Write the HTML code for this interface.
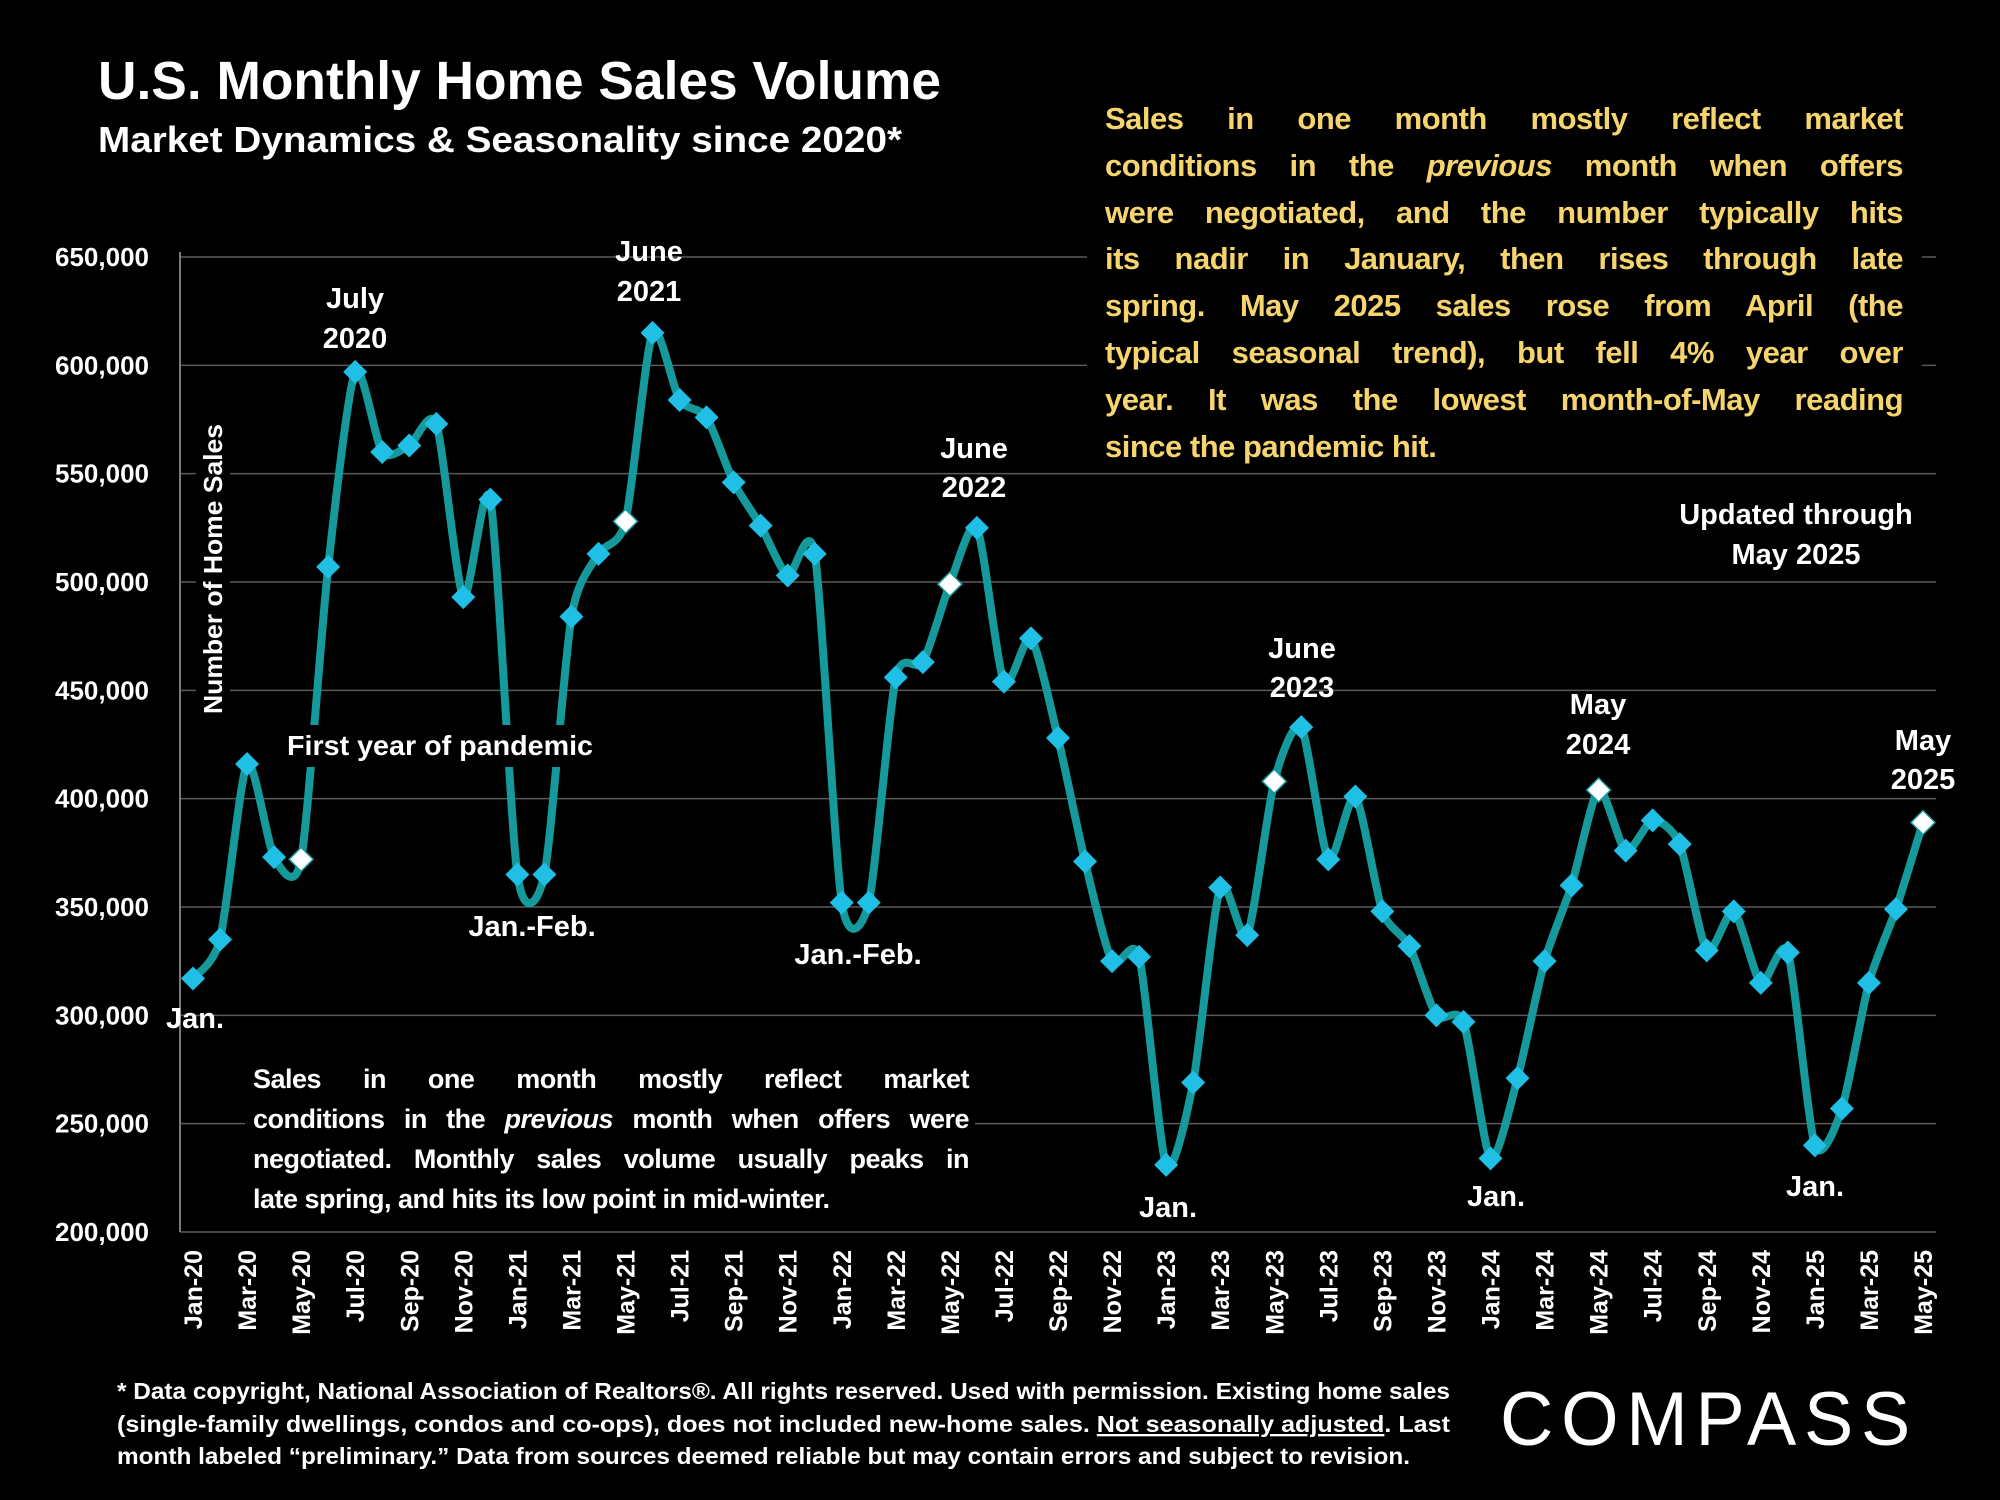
<!DOCTYPE html>
<html><head><meta charset="utf-8">
<style>
html,body{margin:0;padding:0;background:#000;}
svg{display:block;}
text{font-family:"Liberation Sans",sans-serif;font-weight:bold;fill:#fff;}
.para{position:absolute;font-family:"Liberation Sans",sans-serif;font-weight:bold;white-space:nowrap;letter-spacing:-0.5px;}
.para div{text-align:justify;text-align-last:justify;}
.para div.last{text-align-last:left;}
</style></head>
<body>
<div style="position:relative;width:2000px;height:1500px;overflow:hidden">
<svg id="chart" width="2000" height="1500" viewBox="0 0 2000 1500" xmlns="http://www.w3.org/2000/svg">
<rect width="2000" height="1500" fill="#000"/>
<g id="grid"></g>
<g id="ylabels"></g>
<g id="xlabels"></g>
<line x1="180" y1="252" x2="180" y2="1232" stroke="#7a7a7a" stroke-width="2"/>
<g id="series"></g>

<rect x="284" y="725" width="312" height="42" fill="#000"/>
<rect x="196" y="420" width="34" height="300" fill="#000"/>
<text x="440" y="755" font-size="28" text-anchor="middle" textLength="306" lengthAdjust="spacingAndGlyphs">First year of pandemic</text>
<text transform="translate(222,569) rotate(-90)" font-size="26" text-anchor="middle" textLength="290" lengthAdjust="spacingAndGlyphs">Number of Home Sales</text>

<text x="98" y="99" font-size="54" textLength="843" lengthAdjust="spacingAndGlyphs">U.S. Monthly Home Sales Volume</text>
<text x="98" y="152" font-size="36" textLength="804" lengthAdjust="spacingAndGlyphs">Market Dynamics &amp; Seasonality since 2020*</text>

<rect x="1087" y="95" width="835" height="372" fill="#000"/>
<rect x="245" y="1055" width="730" height="168" fill="#000"/>

<g font-size="29" text-anchor="middle">
<text x="355" y="308">July</text><text x="355" y="348">2020</text>
<text x="649" y="261">June</text><text x="649" y="301">2021</text>
<text x="974" y="458">June</text><text x="974" y="497">2022</text>
<text x="1302" y="658">June</text><text x="1302" y="697">2023</text>
<text x="1598" y="714">May</text><text x="1598" y="754">2024</text>
<text x="1923" y="750">May</text><text x="1923" y="789">2025</text>
<text x="195" y="1028">Jan.</text>
<text x="532" y="936">Jan.-Feb.</text>
<text x="858" y="964">Jan.-Feb.</text>
<text x="1168" y="1217">Jan.</text>
<text x="1496" y="1206">Jan.</text>
<text x="1815" y="1196">Jan.</text>
<text x="1796" y="524">Updated through</text>
<text x="1796" y="564">May 2025</text>
</g>

<g font-size="23">
<text x="117" y="1399" textLength="1333" lengthAdjust="spacingAndGlyphs">* Data copyright, National Association of Realtors®. All rights reserved. Used with permission. Existing home sales</text>
<text x="117" y="1432" textLength="1333" lengthAdjust="spacingAndGlyphs">(single-family dwellings, condos and co-ops), does not included new-home sales. <tspan text-decoration="underline">Not seasonally adjusted</tspan>. Last</text>
<text x="117" y="1464" textLength="1293" lengthAdjust="spacingAndGlyphs">month labeled “preliminary.” Data from sources deemed reliable but may contain errors and subject to revision.</text>
</g>

<g>
<text x="1500" y="1445" font-size="76" style="font-weight:normal;letter-spacing:8px" textLength="418" lengthAdjust="spacingAndGlyphs">COMPASS</text>
</g>
</svg>

<div class="para" style="left:1105px;top:96px;width:798px;font-size:31px;line-height:46.8px;color:#f7d56e">
<div>Sales in one month mostly reflect market</div>
<div>conditions in the <i>previous</i> month when offers</div>
<div>were negotiated, and the number typically hits</div>
<div>its nadir in January, then rises through late</div>
<div>spring. May 2025 sales rose from April (the</div>
<div>typical seasonal trend), but fell 4% year over</div>
<div>year. It was the lowest month-of-May reading</div>
<div class="last">since the pandemic hit.</div>
</div>

<div class="para" style="left:253px;top:1059px;width:716px;font-size:27px;line-height:40px;color:#fff">
<div>Sales in one month mostly reflect market</div>
<div>conditions in the <i>previous</i> month when offers were</div>
<div>negotiated. Monthly sales volume usually peaks in</div>
<div class="last">late spring, and hits its low point in mid-winter.</div>
</div>
</div>
<script>
const months = ["Jan-20","Feb-20","Mar-20","Apr-20","May-20","Jun-20","Jul-20","Aug-20","Sep-20","Oct-20","Nov-20","Dec-20",
"Jan-21","Feb-21","Mar-21","Apr-21","May-21","Jun-21","Jul-21","Aug-21","Sep-21","Oct-21","Nov-21","Dec-21",
"Jan-22","Feb-22","Mar-22","Apr-22","May-22","Jun-22","Jul-22","Aug-22","Sep-22","Oct-22","Nov-22","Dec-22",
"Jan-23","Feb-23","Mar-23","Apr-23","May-23","Jun-23","Jul-23","Aug-23","Sep-23","Oct-23","Nov-23","Dec-23",
"Jan-24","Feb-24","Mar-24","Apr-24","May-24","Jun-24","Jul-24","Aug-24","Sep-24","Oct-24","Nov-24","Dec-24",
"Jan-25","Feb-25","Mar-25","Apr-25","May-25"];
const sales = [317000,335000,416000,373000,372000,507000,597000,560000,563000,573000,493000,538000,
365000,365000,484000,513000,528000,615000,584000,576000,546000,526000,503000,513000,
352000,352000,456000,463000,499000,525000,454000,474000,428000,371000,325000,327000,
231000,269000,359000,337000,408000,433000,372000,401000,348000,332000,300000,297000,
234000,271000,325000,360000,404000,376000,390000,379000,330000,348000,315000,329000,
240000,257000,315000,349000,389000];
const yTicks = [200000,250000,300000,350000,400000,450000,500000,550000,600000,650000];
const yMin = 200000, yMax = 650000;

const NS = "http://www.w3.org/2000/svg";
const X0 = 193, X1 = 1923, Y0 = 1232, Y1 = 257;
function xs(i){ return X0 + i*(X1-X0)/(months.length-1); }
function ys(v){ return Y0 - (v-yMin)/(yMax-yMin)*(Y0-Y1); }
function mk(tag, attrs, parent){ const e=document.createElementNS(NS,tag); for(const k in attrs) e.setAttribute(k,attrs[k]); parent.appendChild(e); return e; }

const grid=document.getElementById('grid'), yl=document.getElementById('ylabels'), xl=document.getElementById('xlabels'), ser=document.getElementById('series');
yTicks.forEach(t=>{
  const l=mk('line',{x1:180,x2:1936,y1:ys(t),y2:ys(t),stroke:'#5a5a5a','stroke-width':1.5},grid);
  
  
  const tx=mk('text',{x:149,y:ys(t)+9,'font-size':26,'text-anchor':'end'},yl);
  
  
  tx.textContent=t.toLocaleString('en-US');
});
months.forEach((m,i)=>{
  if(i%2!==0) return;
  const tx=mk('text',{transform:`translate(${xs(i)+9},1250) rotate(-90)`,'font-size':25,'text-anchor':'end'},xl);
  
  
  tx.textContent=m;
});
const pts=sales.map((v,i)=>[xs(i),ys(v)]);
let d=`M${pts[0][0]},${pts[0][1]}`;
for(let i=0;i<pts.length-1;i++){
  const p0=pts[Math.max(0,i-1)],p1=pts[i],p2=pts[i+1],p3=pts[Math.min(pts.length-1,i+2)];
  const t=0.12;
  d+=` C${p1[0]+(p2[0]-p0[0])*t},${p1[1]+(p2[1]-p0[1])*t} ${p2[0]-(p3[0]-p1[0])*t},${p2[1]-(p3[1]-p1[1])*t} ${p2[0]},${p2[1]}`;
}
const path=mk('path',{d:d,fill:'none',stroke:'#16999b','stroke-width':8,'stroke-linejoin':'round'},ser);


pts.forEach((p,i)=>{
  const s=12, isMay=months[i].startsWith('May');
  const dm=mk('path',{d:`M${p[0]},${p[1]-s} L${p[0]+s},${p[1]} L${p[0]},${p[1]+s} L${p[0]-s},${p[1]} Z`,fill:isMay?'#ffffff':'#1fbfe6',stroke:isMay?'#16999b':'none','stroke-width':1.5},ser);
  
  
});
</script>
</body></html>
